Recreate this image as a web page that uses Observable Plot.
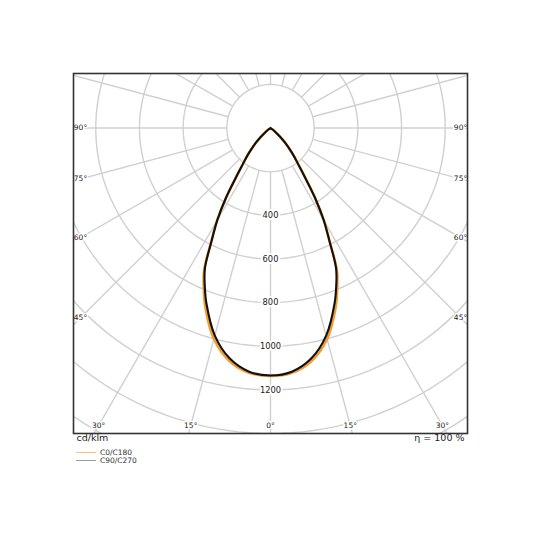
<!DOCTYPE html>
<html>
<head>
<meta charset="utf-8">
<script src="https://cdn.jsdelivr.net/npm/d3@7"></script>
<script src="https://cdn.jsdelivr.net/npm/@observablehq/plot@0.6"></script>
<style>
  html, body { margin: 0; padding: 0; background: #fff; }
  #wrap { position: relative; width: 540px; height: 540px; font-family: "DejaVu Sans", sans-serif; }
  #wrap svg { display: block; }
  #legend { position: absolute; left: 76px; top: 449px; font-size: 7.5px; line-height: 7.6px; color: #333; }
  #legend .sw { display: inline-block; width: 20px; height: 0; vertical-align: middle; margin-right: 4px; }
</style>
</head>
<body>
<div id="wrap"><div id="legend"></div></div>
<script>
// ---- data ----
const gammaDeg = [0, 5, 10, 15, 20, 22.5, 25, 27.5, 30, 32.5, 35, 37.5, 40, 42.5, 45, 47.5, 50, 55, 60];
const intensityC0C180 = [1136, 1126, 1084, 1001, 873, 798, 719, 588, 489, 380, 275, 207, 165, 126, 93, 61, 35, 10, 0];
const intensityC90C270 = [1134, 1121, 1073, 985, 857, 786, 711, 585, 487, 380, 275, 207, 165, 126, 93, 61, 35, 10, 0];
const seriesNames = ["C0/C180", "C90/C270"];
const ringValues = [200, 400, 600, 800, 1000, 1200, 1400, 1600];
const spokeAngles = [0, 15, 30, 45, 60, 75, 90, 105, 120, 135, 150, 165, 180, 195, 210, 225, 240, 255, 270, 285, 300, 315, 330, 345];
const intensityLabels = [400, 600, 800, 1000, 1200];
const sideAngleLabels = [45, 60, 75, 90];
const bottomAngleLabels = [-30, -15, 0, 15, 30];
const unitLabel = "cd/klm";
const efficiencyLabel = "η = 100 %";

// ---- styles ----
const curveColors = ["#f39c33", "#111111"];
const legendColors = ["#f8c27a", "#9a9a9a"];
const gridColor = "#d0d0d0";
const xExt = 902, yTop = -250, yBottom = 1400;

const rad = d => d * Math.PI / 180;

function curvePoints(values) {
  const pts = [];
  for (let i = gammaDeg.length - 1; i >= 0; i--) pts.push({x: -values[i] * Math.sin(rad(gammaDeg[i])), y: values[i] * Math.cos(rad(gammaDeg[i]))});
  for (let i = 1; i < gammaDeg.length; i++) pts.push({x: values[i] * Math.sin(rad(gammaDeg[i])), y: values[i] * Math.cos(rad(gammaDeg[i]))});
  return pts;
}

const ringPts = ringValues.flatMap(r => d3.range(0, 361, 2).map(a => ({r, x: r * Math.sin(rad(a)), y: r * Math.cos(rad(a))})));
const spokes = spokeAngles.map(a => ({
  x1: 200 * Math.sin(rad(a)), y1: 200 * Math.cos(rad(a)),
  x2: 2200 * Math.sin(rad(a)), y2: 2200 * Math.cos(rad(a))
}));
const intensityText = intensityLabels.map(v => ({x: 0, y: v, t: String(v)}));
const sideInset = xExt - 32;
const sideText = sideAngleLabels.flatMap(a => [-1, 1].map(s => ({
  x: s * sideInset, y: sideInset * Math.cos(rad(a)) / Math.sin(rad(a)), t: a + "°"
})));
const bottomInset = yBottom - 37;
const bottomText = bottomAngleLabels.map(a => ({x: bottomInset * Math.tan(rad(a)), y: bottomInset, t: Math.abs(a) + "°"}));

const chart = Plot.plot({
  width: 540, height: 540,
  marginLeft: 73, marginRight: 73, marginTop: 73, marginBottom: 107,
  style: {fontFamily: "DejaVu Sans, sans-serif", background: "#fff"},
  x: {domain: [-xExt, xExt], axis: null},
  y: {domain: [yTop, yBottom], reverse: true, axis: null},
  marks: [
    Plot.line(ringPts, {x: "x", y: "y", z: "r", stroke: gridColor, strokeWidth: 1.4, clip: true}),
    Plot.link(spokes, {x1: "x1", y1: "y1", x2: "x2", y2: "y2", stroke: gridColor, strokeWidth: 1.4, clip: true}),
    Plot.text(intensityText, {x: "x", y: "y", text: "t", fontSize: 8.3, fill: "#222", stroke: "white", strokeWidth: 4}),
    Plot.text(sideText, {x: "x", y: "y", text: "t", fontSize: 7.5, fill: "#222", stroke: "white", strokeWidth: 3}),
    Plot.text(bottomText, {x: "x", y: "y", text: "t", fontSize: 7.5, fill: "#222", stroke: "white", strokeWidth: 3}),
    Plot.line(curvePoints(intensityC0C180), {x: "x", y: "y", stroke: curveColors[0], strokeWidth: 2.6, curve: "catmull-rom"}),
    Plot.line(curvePoints(intensityC90C270), {x: "x", y: "y", stroke: curveColors[1], strokeWidth: 2.1, curve: "catmull-rom", strokeLinejoin: "miter"}),
    Plot.frame({stroke: "#333", strokeWidth: 1.6}),
    Plot.text([unitLabel], {frameAnchor: "bottom-left", dx: 3, dy: 7, textAnchor: "start", fontSize: 9.5, fill: "#222"}),
    Plot.text([efficiencyLabel], {frameAnchor: "bottom-right", dx: -3, dy: 7, textAnchor: "end", fontSize: 9.5, fill: "#222"})
  ]
});
document.getElementById("wrap").prepend(chart);

const legend = document.getElementById("legend");
seriesNames.forEach((name, i) => {
  const row = document.createElement("div");
  const sw = document.createElement("span");
  sw.className = "sw";
  sw.style.borderTop = "1px solid " + legendColors[i];
  row.appendChild(sw);
  row.appendChild(document.createTextNode(name));
  legend.appendChild(row);
});
</script>
</body>
</html>
